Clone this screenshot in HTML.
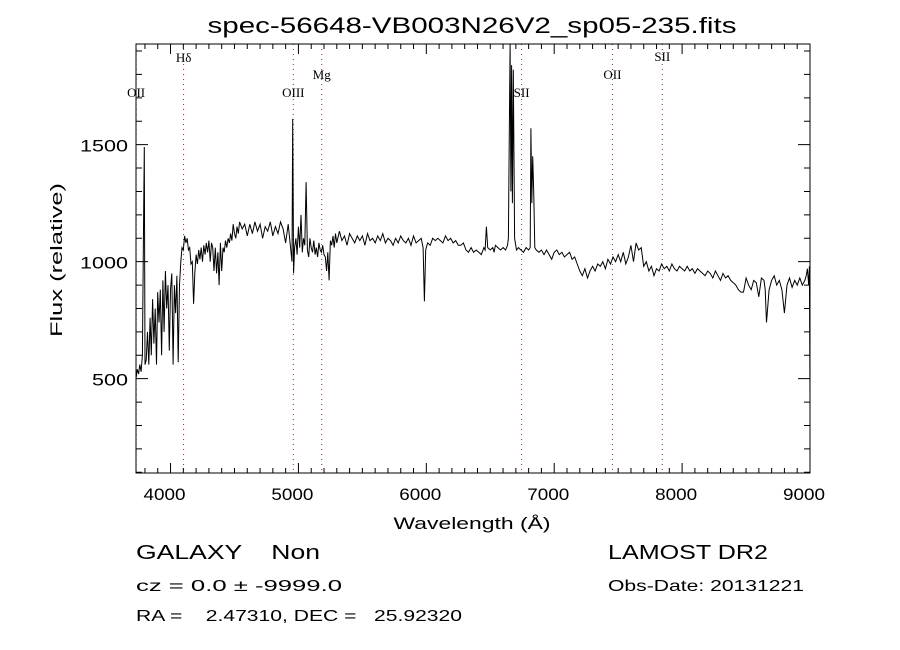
<!DOCTYPE html>
<html><head><meta charset="utf-8"><style>
html,body{margin:0;padding:0;background:#fff;}
svg{display:block;font-family:"Liberation Sans",sans-serif;}
text{white-space:pre;}
</style></head><body>
<svg id="chart" width="900" height="650" viewBox="0 0 900 650" xml:space="preserve">
<rect width="900" height="650" fill="#fff"/>
<text x="472" y="33" font-size="22" text-anchor="middle" textLength="529" lengthAdjust="spacingAndGlyphs">spec-56648-VB003N26V2_sp05-235.fits</text>
<g id="plot"></g>
<text x="472" y="529" font-size="17" text-anchor="middle" textLength="157" lengthAdjust="spacingAndGlyphs">Wavelength (Å)</text>
<text transform="translate(62,260) rotate(-90)" font-size="17" text-anchor="middle" textLength="154" lengthAdjust="spacingAndGlyphs">Flux (relative)</text>
<text x="136" y="559" font-size="20" textLength="184" lengthAdjust="spacingAndGlyphs">GALAXY    Non</text>
<text x="608" y="559" font-size="20" textLength="160" lengthAdjust="spacingAndGlyphs">LAMOST DR2</text>
<text x="136" y="591" font-size="16" textLength="206" lengthAdjust="spacingAndGlyphs">cz = 0.0 ± -9999.0</text>
<text x="608" y="591" font-size="16" textLength="196" lengthAdjust="spacingAndGlyphs">Obs-Date: 20131221</text>
<text x="136" y="621" font-size="16" textLength="326" lengthAdjust="spacingAndGlyphs">RA =    2.47310, DEC =   25.92320</text>
</svg>
<script>
const wave=[3730,3740,3750,3760,3770,3780,3790,3795,3800,3810,3820,3830,3840,3850,3860,3870,3880,3890,3900,3910,3920,3930,3940,3950,3960,3970,3980,3990,4000,4010,4020,4030,4040,4050,4060,4070,4080,4090,4100,4110,4120,4130,4140,4150,4160,4170,4180,4190,4200,4210,4220,4230,4240,4250,4260,4270,4280,4290,4300,4310,4320,4330,4340,4350,4360,4370,4380,4390,4400,4410,4420,4430,4440,4450,4460,4470,4480,4490,4500,4510,4520,4530,4540,4560,4580,4600,4620,4640,4660,4680,4700,4720,4740,4760,4780,4800,4820,4840,4860,4880,4900,4920,4940,4950,4955,4962,4970,4980,4990,5000,5010,5020,5030,5040,5050,5060,5070,5080,5090,5100,5110,5120,5130,5140,5150,5160,5170,5180,5190,5200,5210,5220,5230,5240,5250,5260,5270,5280,5290,5300,5320,5340,5360,5380,5400,5420,5440,5460,5480,5500,5520,5540,5560,5580,5600,5620,5640,5660,5680,5700,5720,5740,5760,5780,5800,5820,5840,5860,5880,5900,5920,5940,5960,5975,5985,5995,6010,6030,6050,6070,6090,6110,6130,6150,6170,6190,6210,6230,6250,6270,6290,6310,6330,6350,6370,6390,6410,6430,6450,6460,6470,6480,6500,6520,6530,6540,6560,6580,6600,6620,6635,6642,6648,6655,6661,6667,6673,6680,6690,6705,6720,6740,6760,6780,6800,6812,6818,6825,6832,6840,6848,6860,6880,6900,6920,6940,6960,6980,7000,7020,7040,7060,7080,7100,7120,7140,7160,7180,7200,7220,7240,7260,7280,7300,7320,7340,7360,7380,7400,7420,7440,7460,7480,7500,7520,7540,7560,7580,7600,7620,7640,7660,7680,7700,7720,7740,7760,7780,7800,7820,7840,7860,7880,7900,7920,7940,7960,7980,8000,8020,8040,8060,8080,8100,8120,8140,8160,8180,8200,8220,8240,8260,8280,8300,8320,8340,8360,8380,8400,8420,8440,8460,8480,8500,8520,8540,8560,8580,8600,8620,8640,8650,8660,8680,8700,8720,8740,8760,8780,8800,8820,8840,8860,8880,8900,8920,8940,8960,8970,8980,8990,8995,9000];
const flux=[500,540,520,560,530,600,1230,1490,560,580,700,560,760,600,840,650,800,560,870,740,880,600,920,700,960,800,900,620,880,950,560,900,780,940,570,900,1000,1060,1050,1110,1080,1100,1050,1060,990,1000,820,950,1030,990,1050,1010,1060,1000,1070,1030,1080,1040,1090,1000,1080,1060,960,1060,950,1040,900,1080,960,1060,1040,1090,1060,1100,1080,1120,1090,1160,1120,1100,1150,1120,1170,1140,1160,1110,1160,1120,1170,1130,1160,1100,1150,1130,1170,1110,1150,1120,1170,1140,1080,1160,1050,1000,1610,950,1060,1100,1030,1150,1060,1200,1040,1100,1070,1340,1050,1020,1100,1060,1040,1090,1030,1060,1020,1080,1050,1040,1070,1030,1020,960,1040,920,1090,1070,1110,1060,1120,1080,1130,1090,1110,1070,1120,1100,1080,1110,1090,1110,1070,1120,1090,1100,1080,1110,1090,1120,1080,1100,1090,1070,1100,1080,1110,1090,1080,1100,1070,1110,1080,1090,1100,1060,830,1050,1080,1070,1100,1090,1100,1090,1080,1110,1090,1100,1080,1090,1070,1070,1080,1050,1040,1060,1040,1050,1040,1030,1060,1050,1150,1060,1050,1060,1040,1070,1060,1050,1060,1050,1070,1100,1500,1930,1300,1840,1250,1820,1100,1050,1060,1050,1040,1060,1050,1060,1570,1250,1450,1300,1060,1050,1040,1050,1030,1050,1030,1010,1040,1050,1030,1040,1020,1030,1040,1010,1020,990,960,940,970,930,960,980,960,990,980,1000,970,1010,990,1020,1000,1030,1000,1040,990,1020,1070,1000,1080,1050,1060,980,1000,960,980,940,970,960,990,970,980,960,990,970,960,980,970,960,980,960,970,950,970,960,950,940,960,950,930,960,940,920,950,930,940,920,910,900,880,870,870,930,900,880,920,910,850,930,920,880,740,880,920,940,900,920,880,780,900,930,890,920,900,930,900,920,940,970,900,980,400,100];
const xTicks=[4000,5000,6000,7000,8000,9000];
const yTicks=[500,1000,1500];
const lineNames=["OII","H\u03b4","OIII","Mg","SII","OII","SII"];
const lineWaves=[3731,4102,4960,5182,6745,7455,7845];
const labelY=[97,62,97,79,97,79,61];

const L=136,R=810,T=44,B=473,XMIN=3730,XMAX=9000,YMIN=97,YMAX=1930;
const sx=w=>L+(w-XMIN)/(XMAX-XMIN)*(R-L);
const sy=f=>B-(f-YMIN)/(YMAX-YMIN)*(B-T);
const NS="http://www.w3.org/2000/svg";
const g=document.getElementById('plot');
function mk(tag,attrs){const e=document.createElementNS(NS,tag);for(const k in attrs)e.setAttribute(k,attrs[k]);g.appendChild(e);return e;}

const cp=mk('clipPath',{id:'clip'});
const cr=document.createElementNS(NS,'rect');cr.setAttribute('x',L);cr.setAttribute('y',T);cr.setAttribute('width',R-L);cr.setAttribute('height',B-T);cp.appendChild(cr);

lineWaves.forEach((w,i)=>{
  const l=mk('line',{x1:sx(w),x2:sx(w),y1:T,y2:B,stroke:'#8b2e2e','stroke-width':1,'stroke-dasharray':'1,4'});
  
  
  const t=mk('text',{x:sx(w),y:labelY[i],'font-size':13,'text-anchor':'middle','font-family':'Liberation Serif, serif'});
  t.textContent=lineNames[i];
  
  
});

let d='';
wave.forEach((w,i)=>{d+=(i?'L':'M')+sx(w).toFixed(1)+','+sy(flux[i]).toFixed(1);});
const p=mk('path',{d:d,fill:'none',stroke:'#000','stroke-width':1,'clip-path':'url(#clip)'});



const fr=mk('rect',{x:L,y:T,width:R-L,height:B-T,fill:'none',stroke:'#000','stroke-width':1});



let td='';
for(let w=3800;w<=9000;w+=100){const x=sx(w);const len=(w%1000===0)?10:5;td+=`M${x},${B}v${-len}M${x},${T}v${len}`;}
for(let f=100;f<=1900;f+=100){const y=sy(f);const len=(f%500===0)?12:6;td+=`M${L},${y}h${len}M${R},${y}h${-len}`;}
const tk=mk('path',{d:td,stroke:'#000','stroke-width':1,fill:'none'});



xTicks.forEach(v=>{
  const t=mk('text',{x:sx(v)-6,y:500,'font-size':17,'text-anchor':'middle',textLength:42,lengthAdjust:'spacingAndGlyphs'});
  t.textContent=v;
  
  
});
yTicks.forEach(v=>{
  const t=mk('text',{x:128,y:sy(v)+7,'font-size':17,'text-anchor':'end',textLength:v>=1000?48:36,lengthAdjust:'spacingAndGlyphs'});
  t.textContent=v;
  
  
});
</script>
</body></html>
